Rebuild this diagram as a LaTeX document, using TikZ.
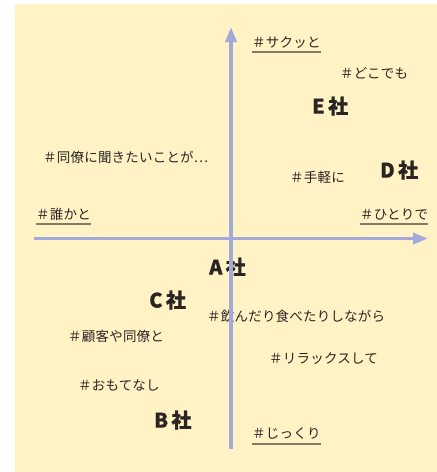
\documentclass[tikz,border=0pt]{standalone}
\usepackage{fontspec}
\setmainfont{Noto Sans CJK JP}
\newfontfamily\tagfont{Noto Sans CJK JP}[LetterSpace=1.5]
\newfontfamily\cofont{Noto Sans CJK JP}[BoldFeatures={FakeBold=0.6}]
\usetikzlibrary{arrows.meta}
\definecolor{bg}{HTML}{FFF2C5}
\definecolor{axis}{HTML}{A3A9DA}
\definecolor{ink}{HTML}{2A2522}
\definecolor{uline}{HTML}{857A68}
\begin{document}
\begin{tikzpicture}[x=1pt,y=-1pt,
  tag/.style={anchor=west,inner sep=0pt,font=\tagfont\fontsize{13.5}{14}\selectfont,text=ink},
  co/.style={anchor=west,inner sep=0pt,font=\cofont\fontsize{20}{21}\selectfont\bfseries,text=ink},
  ul/.style={draw=uline,line width=1.4pt},
  ax/.style={draw=axis,line width=3.5pt,-{Triangle[length=15pt,width=11pt]}}]
\useasboundingbox (0,0) rectangle (437,472);
\fill[bg] (15,4) rectangle (437,472);
% labels
\node[tag] (sakutto) at (252,43) {＃サクッと};
\node[tag] (dokodemo) at (340,73) {＃どこでも};
\node[co] (E) at (312,106) {E\,社};
\node[tag] (douryou) at (43,157) {＃同僚に聞きたいことが⋯};
\node[tag] (tegaru) at (290,177) {＃手軽に};
\node[co] (D) at (380,170) {D\,社};
\node[tag] (dareka) at (36,214) {＃誰かと};
\node[tag] (hitori) at (360,214) {＃ひとりで};
\node[co] (A) at (209,267) {A\,社};
\node[co] (C) at (149,300) {C\,社};
\node[tag] (nondari) at (207,316) {＃飲んだり食べたりしながら};
\node[tag] (kokyaku) at (68,336) {＃顧客や同僚と};
\node[tag] (relax) at (269,359) {＃リラックスして};
\node[tag] (omote) at (78,385) {＃おもてなし};
\node[co] (B) at (154,420) {B\,社};
\node[tag] (jikkuri) at (252,434) {＃じっくり};
% underlines
\draw[ul] ([yshift=-9pt]sakutto.west) -- ([yshift=-9pt]sakutto.east);
\draw[ul] ([yshift=-10pt]dareka.west) -- ([yshift=-10pt]dareka.east);
\draw[ul] ([yshift=-10pt]hitori.west) -- ([yshift=-10pt]hitori.east);
\draw[ul] ([yshift=-10pt]jikkuri.west) -- ([yshift=-10pt]jikkuri.east);
% axes
\coordinate (xl) at (34,238.5);
\coordinate (xr) at (428,238.5);
\coordinate (yb) at (231,449);
\coordinate (yt) at (231,27);
\draw[ax] (xl) -- (xr);
\draw[ax] (yb) -- (yt);
\end{tikzpicture}
\end{document}
